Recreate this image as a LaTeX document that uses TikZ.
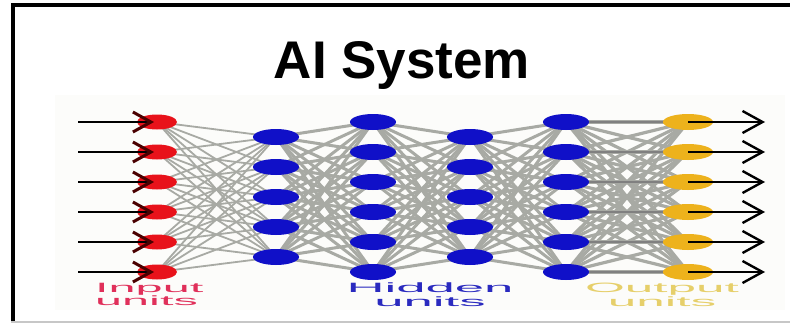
\documentclass[tikz,border=0pt]{standalone}
\usepackage{fontspec}
\setmainfont{Liberation Sans}
\usetikzlibrary{shapes.geometric,arrows.meta,backgrounds}
\definecolor{edgegray}{HTML}{A8AAA4}
\definecolor{inred}{HTML}{E8121A}
\definecolor{hidblue}{HTML}{1010C8}
\definecolor{outgold}{HTML}{EDB21C}
\definecolor{inlbl}{HTML}{E0305A}
\definecolor{hidlbl}{HTML}{2A2ABF}
\definecolor{outlbl}{HTML}{E6CF6A}
\definecolor{paper}{HTML}{FCFCFA}
\definecolor{tipred}{HTML}{4A0000}
\begin{document}
\begin{tikzpicture}[x=1pt,y=-1pt,
  unit/.style={ellipse, inner sep=0pt, draw=none},
  inunit/.style={unit, fill=inred, minimum width=40pt, minimum height=15pt},
  hidunit/.style={unit, fill=hidblue, minimum width=46pt, minimum height=16pt},
  outunit/.style={unit, fill=outgold, minimum width=50pt, minimum height=16pt},
  link/.style={draw=edgegray, line width=#1},
  inarrow/.style={draw=black, line width=2pt, shorten >=3pt,
    -{Straight Barb[length=18pt,width=20pt,line width=3pt,color=tipred]}},
  outarrow/.style={draw=black, line width=1.8pt,
    -{Straight Barb[length=20pt,width=22pt,line width=2.4pt]}},
  lbl/.style={inner sep=0pt, font=\fontsize{13.5}{12}\selectfont}]
\useasboundingbox (0,0) rectangle (790,324);

% title
\node[font=\bfseries\fontsize{53}{60}\selectfont, anchor=base, inner sep=0pt] (title) at (402,78) {AI System};

% units
\foreach \i/\y in {1/122,2/152,3/182,4/212,5/242,6/272} {
  \node[inunit] (in\i) at (157,\y) {};
  \node[hidunit] (hb\i) at (373,\y) {};
  \node[hidunit] (hd\i) at (566,\y) {};
  \node[outunit] (out\i) at (688,\y) {};
  \coordinate (s\i) at (78,\y);
  \coordinate (e\i) at (765,\y);
}
\foreach \i/\y in {1/137,2/167,3/197,4/227,5/257} {
  \node[hidunit] (ha\i) at (276,\y) {};
  \node[hidunit] (hc\i) at (470,\y) {};
}

% labels
\node[lbl, text=inlbl, anchor=north west] (inlabel) at (95,283)
  {\scalebox{3.6}[1]{\begin{tabular}{@{}l@{}}Input\\units\end{tabular}}};
\node[lbl, text=hidlbl, anchor=north] (hidlabel) at (430,283)
  {\scalebox{3.9}[1]{\begin{tabular}{@{}c@{}}Hidden\\units\end{tabular}}};
\node[lbl, text=outlbl, anchor=north] (outlabel) at (662,283)
  {\scalebox{3.8}[1]{\begin{tabular}{@{}c@{}}Output\\units\end{tabular}}};

% background, frame and connections
\begin{scope}[on background layer]
  \fill[paper] (55,95) rectangle (785,310);
  \draw[line width=4pt, black] (13,322) -- (13,5) -- (790,5);
  \draw[line width=1.5pt, black!22] (11,322) -- (790,322);
  \foreach \a in {1,...,6} \foreach \b in {1,...,5}
    \draw[link=1.8pt] (in\a.center) -- (ha\b.center);
  \foreach \a in {1,...,5} \foreach \b in {1,...,6}
    \draw[link=3pt] (ha\a.center) -- (hb\b.center);
  \foreach \a in {1,...,6} \foreach \b in {1,...,5}
    \draw[link=3pt] (hb\a.center) -- (hc\b.center);
  \foreach \a in {1,...,5} \foreach \b in {1,...,6}
    \draw[link=3pt] (hc\a.center) -- (hd\b.center);
  \foreach \a in {1,...,6} \foreach \b in {1,...,6}
    \draw[link=3.2pt] (hd\a.center) -- (out\b.center);
  \foreach \a in {1,...,6}
    \draw[link=1.2pt, draw=gray] (hd\a.center) -- (out\a.center);
\end{scope}

% input and output arrows
\foreach \i in {1,...,6} {
  \draw[inarrow] (s\i) -- (in\i.center);
  \draw[outarrow] (out\i.center) -- (e\i);
}
\end{tikzpicture}
\end{document}
